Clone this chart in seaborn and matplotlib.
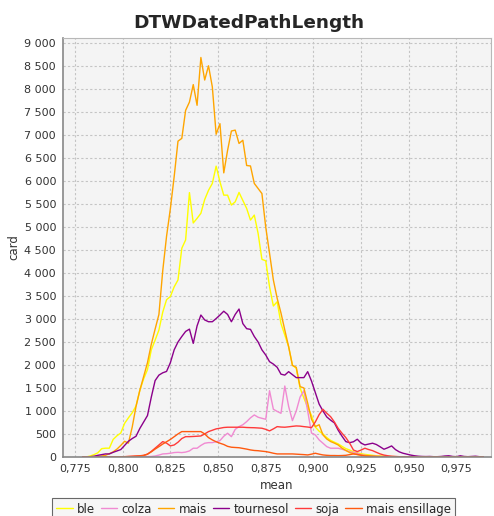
import pandas as pd
import numpy as np
import seaborn as sns
from matplotlib import pyplot as plt
from matplotlib.ticker import FuncFormatter, MultipleLocator

# bin centres of "mean", 0.779 .. 0.989
mean = np.round(np.arange(0.779, 0.9895, 0.002), 3)

ble = [0, 0, 20, 50, 90, 180, 190, 190, 380, 460,
       520, 730, 850, 960, 1110, 1450, 1700, 1900, 2330, 2540,
       2760, 3150, 3420, 3490, 3700, 3850, 4540, 4720, 5750, 5090,
       5190, 5300, 5600, 5800, 5950, 6326, 5985, 5695, 5695, 5480,
       5550, 5754, 5580, 5406, 5152, 5261, 4863, 4298, 4267, 3702,
       3283, 3376, 2900, 2652, 2398, 2000, 1928, 1500, 1280, 1080,
       900, 650, 560, 500, 420, 360, 320, 283, 230, 180,
       150, 110, 90, 70, 55, 45, 35, 25, 20, 15,
       10, 8, 5, 3] + [0] * 22

colza = [0] * 13 + [3, 5, 5, 5, 8,
         10, 20, 40, 65, 70, 80, 95, 100, 94, 105,
         130, 189, 189, 250, 298, 311, 311, 330, 355, 450,
         515, 441, 600, 659, 700, 768, 850, 913, 863, 840,
         819, 1441, 1037, 990, 949, 1543, 1100, 789, 1000, 1300,
         1441, 1000, 520, 478, 370, 298, 224, 189, 189, 189,
         167, 140, 116, 95, 80, 50, 35, 25, 20, 15,
         10, 5, 3] + [0] * 25

mais = [0, 0, 0, 5, 10, 20, 35, 70, 110, 170,
        250, 340, 300, 650, 1100, 1450, 1750, 2050, 2450, 2780,
        3100, 4050, 4800, 5400, 6100, 6870, 6930, 7540, 7720, 8100,
        7650, 8690, 8200, 8510, 8050, 7020, 7250, 6180, 6670, 7090,
        7110, 6820, 6890, 6340, 6330, 5950, 5840, 5730, 5000, 4430,
        3850, 3450, 3130, 2760, 2400, 1990, 1950, 1530, 1500, 1170,
        820, 660, 700, 480, 390, 335, 300, 260, 190, 140,
        95, 70, 50, 40, 30, 25, 20, 15, 10, 8,
        5, 3] + [0] * 24

tournesol = [0, 0, 5, 15, 35, 50, 65, 65, 100, 130,
             160, 250, 340, 400, 450, 620, 760, 900, 1300, 1660,
             1780, 1830, 1860, 2050, 2330, 2500, 2620, 2730, 2780, 2470,
             2850, 3087, 2980, 2941, 2941, 3010, 3087, 3170, 3100, 2941,
             3100, 3217, 2900, 2790, 2775, 2620, 2500, 2330, 2217, 2072,
             2020, 1950, 1800, 1780, 1855, 1790, 1725, 1725, 1725, 1855,
             1650, 1400, 1150, 1000, 870, 800, 740, 580, 450, 333,
             310, 330, 385, 300, 261, 280, 298, 270, 220, 167,
             200, 239, 160, 110, 80, 60, 40, 25, 15, 10,
             8, 10, 5, 5, 10, 20, 25, 10, 5, 25,
             10, 5, 10, 15, 5, 0]

soja = [0] * 11 + [5, 10, 15, 20, 25, 35, 60, 120, 190, 260,
        333, 300, 240, 260, 320, 400, 441, 441, 445, 450,
        456, 500, 551, 580, 610, 624, 640, 646, 646, 646,
        646, 646, 640, 637, 635, 630, 624, 600, 566, 610,
        659, 650, 646, 655, 665, 674, 670, 659, 650, 637,
        760, 920, 1037, 950, 876, 760, 620, 515, 420, 300,
        150, 116, 150, 189, 160, 137, 100, 65, 40, 25,
        15, 10, 5] + [0] * 22

mais_ensillage = [0] * 11 + [5, 8, 10, 15, 20, 30, 60, 110, 170, 224,
                  280, 330, 380, 440, 500, 551, 551, 551, 551, 551,
                  551, 500, 420, 370, 330, 298, 270, 230, 211, 205,
                  200, 185, 170, 152, 140, 135, 125, 116, 100, 80,
                  65, 65, 65, 65, 65, 60, 55, 50, 43, 60,
                  80, 60, 43, 35, 30, 30, 28, 30, 35, 50,
                  65, 55, 35, 20, 15, 10, 5] + [0] * 28

series = {'ble': ble, 'colza': colza, 'mais': mais, 'tournesol': tournesol,
          'soja': soja, 'mais ensillage': mais_ensillage}
colors = {'ble': '#ffff00', 'colza': '#f08ad2', 'mais': '#ffa500',
          'tournesol': '#8b008b', 'soja': '#ff3a3a', 'mais ensillage': '#ff5a10'}

df = pd.DataFrame(series)
df['mean'] = mean
df = df.melt(id_vars='mean', var_name='culture', value_name='card')

sns.set_style('whitegrid', {'axes.facecolor': '#f4f4f4',
                            'grid.color': '#c4c4c4',
                            'grid.linestyle': (0, (2, 2)),
                            'axes.edgecolor': '#a0a0a0'})
plt.rcParams['font.family'] = ['DejaVu Sans']

fig = plt.figure(figsize=(4.94, 5.16), dpi=100)
ax = fig.add_axes([0.1275, 0.1145, 0.866, 0.8115])

sns.lineplot(data=df, x='mean', y='card', hue='culture', palette=colors,
             linewidth=1.0, ax=ax, legend=False)

ax.set_xlim(0.7687, 0.993)
ax.set_ylim(0, 9110)
ax.xaxis.set_major_locator(MultipleLocator(0.025))
ax.yaxis.set_major_locator(MultipleLocator(500))
ax.xaxis.set_major_formatter(FuncFormatter(lambda v, p: f'{v:.3f}'.replace('.', ',')))
ax.yaxis.set_major_formatter(FuncFormatter(lambda v, p: f'{int(round(v)):,}'.replace(',', ' ')))
ax.tick_params(axis='both', labelsize=8, length=3, color='#a0a0a0', pad=2,
               labelcolor='#333333')
ax.grid(True, linewidth=0.8)
for side in ['left', 'bottom']:
    ax.spines[side].set_color('#888888')
    ax.spines[side].set_linewidth(1.2)
for side in ['top', 'right']:
    ax.spines[side].set_color('#b8b8b8')

ax.set_xlabel('mean', fontsize=8.5, color='#333333', labelpad=4)
ax.set_ylabel('card', fontsize=8.5, color='#333333', labelpad=3)
fig.text(0.503, 0.956, 'DTWDatedPathLength', ha='center', va='center',
         fontsize=13.3, fontweight='bold')

handles = [plt.Line2D([], [], color=colors[k], lw=1.0) for k in series]
leg = fig.legend(handles, list(series), loc='upper center',
                 bbox_to_anchor=(0.513, 0.034), borderaxespad=0, ncol=6,
                 fontsize=8.5, frameon=True, fancybox=False, handlelength=1.4,
                 handletextpad=0.35, columnspacing=0.5, borderpad=0.35)
leg.get_frame().set_edgecolor('#444444')
leg.get_frame().set_linewidth(0.8)

fig.savefig('out.png', dpi=100)
